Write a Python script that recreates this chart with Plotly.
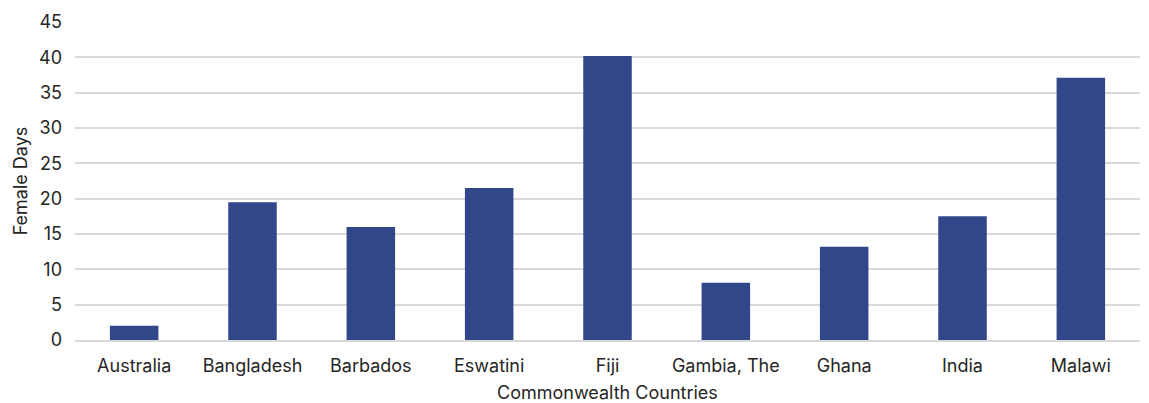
import plotly.graph_objects as go

countries = ["Australia", "Bangladesh", "Barbados", "Eswatini", "Fiji",
             "Gambia, The", "Ghana", "India", "Malawi"]
female_days = [2.0, 19.5, 16.0, 21.5, 40.2, 8.1, 13.2, 17.5, 37.1]
y_ticks = [0, 5, 10, 15, 20, 25, 30, 35, 40, 45]

fig = go.Figure(go.Bar(x=countries, y=female_days, marker_color="#32478A",
                       marker_line_width=0))

font = dict(family="Inter, Lato, sans-serif", size=18, color="#262626")
fig.update_layout(
    width=1149, height=403,
    margin=dict(l=75, r=9, t=22, b=63),
    plot_bgcolor="white", paper_bgcolor="white",
    bargap=0.59, showlegend=False, font=font,
)
fig.update_yaxes(range=[0, 45], tickvals=y_ticks, showgrid=True,
                 gridcolor="#d9d9d9", gridwidth=1.5, zeroline=False,
                 ticks="", ticklabelstandoff=12, tickfont=dict(size=18),
                 automargin=False,
                 title=dict(text="Female Days", standoff=6, font=dict(size=18)))
fig.update_xaxes(showline=True, linecolor="#d9d9d9", linewidth=1.5,
                 ticks="", ticklabelstandoff=9, tickfont=dict(size=18),
                 automargin=False)
fig.add_annotation(text="Commonwealth Countries", xref="paper", yref="paper",
                   x=0.5, y=-0.166, yanchor="middle", showarrow=False,
                   font=dict(size=18))

fig.write_html("out.html")
